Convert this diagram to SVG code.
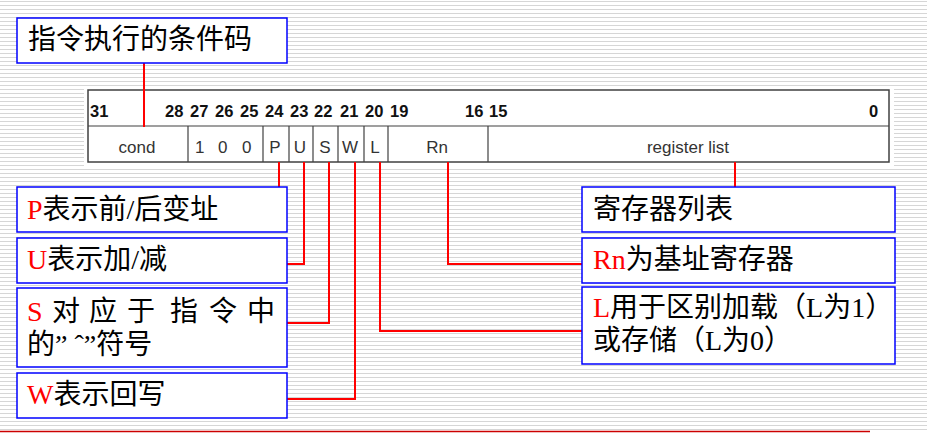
<svg xmlns="http://www.w3.org/2000/svg" width="927" height="433" viewBox="0 0 927 433">
<defs>
<pattern id="stripes" x="0" y="0" width="8" height="4" patternUnits="userSpaceOnUse">
<rect width="8" height="4" fill="#ffffff"/>
<rect y="1" width="8" height="1" fill="#d6d6d6"/>
</pattern>
</defs>
<style>
.box{fill:#ffffff;stroke:#0000ff;stroke-width:1.5}
.tbl{fill:#ffffff;stroke:#404040;stroke-width:1.5}
.div{stroke:#404040;stroke-width:1.2}
.bit{font-family:"Liberation Sans",Arial,sans-serif;font-weight:bold;font-size:16.5px;fill:#111}
.lab{font-family:"Liberation Sans",Arial,sans-serif;font-size:17px;fill:#333}
.cn{font-family:"Liberation Serif","Noto Sans CJK SC",serif;font-size:28px;fill:#000}
.red{fill:#ff0000}
.con{fill:none;stroke:#ff0000;stroke-width:2}
</style>
<rect width="927" height="433" fill="url(#stripes)"/>
<rect x="84" y="86" width="810" height="82" fill="#ffffff"/>
<line x1="0" y1="431.5" x2="870" y2="431.5" stroke="#cc0000" stroke-width="1.5"/>

<g id="table">
<rect class="tbl" x="88" y="90" width="801" height="72"/>
<line class="div" x1="88" y1="126" x2="889" y2="126"/>
<line class="div" x1="188" y1="126" x2="188" y2="162"/>
<line class="div" x1="263" y1="126" x2="263" y2="162"/>
<line class="div" x1="289" y1="126" x2="289" y2="162"/>
<line class="div" x1="313" y1="126" x2="313" y2="162"/>
<line class="div" x1="338" y1="126" x2="338" y2="162"/>
<line class="div" x1="364" y1="126" x2="364" y2="162"/>
<line class="div" x1="388" y1="126" x2="388" y2="162"/>
<line class="div" x1="488" y1="126" x2="488" y2="162"/>
<text class="bit" x="90" y="117">31</text>
<text class="bit" x="165" y="117">28</text>
<text class="bit" x="190" y="117">27</text>
<text class="bit" x="215" y="117">26</text>
<text class="bit" x="240" y="117">25</text>
<text class="bit" x="265" y="117">24</text>
<text class="bit" x="290" y="117">23</text>
<text class="bit" x="314" y="117">22</text>
<text class="bit" x="340" y="117">21</text>
<text class="bit" x="365" y="117">20</text>
<text class="bit" x="390" y="117">19</text>
<text class="bit" x="465" y="117">16</text>
<text class="bit" x="489" y="117">15</text>
<text class="bit" x="869" y="117">0</text>
<text class="lab" x="137" y="153" text-anchor="middle">cond</text>
<text class="lab" x="195" y="153">1</text>
<text class="lab" x="218" y="153">0</text>
<text class="lab" x="242" y="153">0</text>
<text class="lab" x="275" y="153" text-anchor="middle">P</text>
<text class="lab" x="300" y="153" text-anchor="middle">U</text>
<text class="lab" x="325" y="153" text-anchor="middle">S</text>
<text class="lab" x="350" y="153" text-anchor="middle">W</text>
<text class="lab" x="375" y="153" text-anchor="middle">L</text>
<text class="lab" x="437" y="153" text-anchor="middle">Rn</text>
<text class="lab" x="688" y="153" text-anchor="middle">register list</text>
</g>

<g id="connectors">
<polyline class="con" points="144,63 144,127"/>
<polyline class="con" points="279,162 279,187"/>
<polyline class="con" points="304,162 304,264 287,264"/>
<polyline class="con" points="329,162 329,323 287,323"/>
<polyline class="con" points="355,162 355,399 287,399"/>
<polyline class="con" points="380,162 380,331 582,331"/>
<polyline class="con" points="448,162 448,264 582,264"/>
<polyline class="con" points="735,162 735,187"/>
</g>

<g id="cond-box">
<rect class="box" x="17" y="18" width="270" height="45"/>
<text class="cn" x="28" y="49">指令执行的条件码</text>
</g>
<g id="p-box">
<rect class="box" x="17" y="187" width="270" height="45"/>
<text class="cn" x="27" y="219"><tspan class="red">P</tspan>表示前/后变址</text>
</g>
<g id="u-box">
<rect class="box" x="17" y="238" width="270" height="45"/>
<text class="cn" x="27" y="269"><tspan class="red">U</tspan>表示加/减</text>
</g>
<g id="s-box">
<rect class="box" x="17" y="288" width="270" height="79"/>
<text class="cn" y="321"><tspan class="red" x="27">S</tspan><tspan x="52">对</tspan><tspan x="89">应</tspan><tspan x="127">于</tspan><tspan x="170">指</tspan><tspan x="209">令</tspan><tspan x="247">中</tspan></text>
<text class="cn" x="27" y="354">的” ˆ”符号</text>
</g>
<g id="w-box">
<rect class="box" x="17" y="373" width="270" height="45"/>
<text class="cn" x="27" y="404"><tspan class="red">W</tspan>表示回写</text>
</g>
<g id="reglist-box">
<rect class="box" x="582" y="187" width="313" height="45"/>
<text class="cn" x="593" y="219">寄存器列表</text>
</g>
<g id="rn-box">
<rect class="box" x="582" y="238" width="313" height="45"/>
<text class="cn" x="593" y="269"><tspan class="red">Rn</tspan>为基址寄存器</text>
</g>
<g id="l-box">
<rect class="box" x="582" y="287" width="313" height="77"/>
<text class="cn" x="593" y="317"><tspan class="red">L</tspan>用于区别加载（L为1）</text>
<text class="cn" x="593" y="350">或存储（L为0）</text>
</g>
</svg>
